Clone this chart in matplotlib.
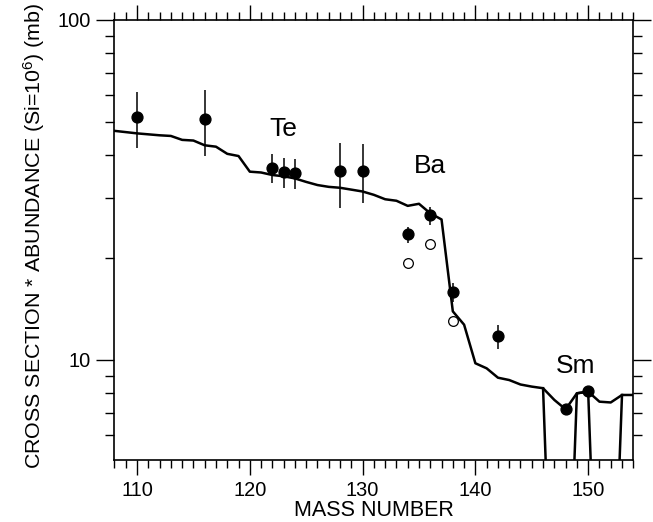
import matplotlib
matplotlib.use('Agg')
import matplotlib.pyplot as plt
from matplotlib.ticker import FixedLocator, NullFormatter, FixedFormatter

plt.rcParams['font.family'] = ['Liberation Sans', 'DejaVu Sans']
plt.rcParams['mathtext.default'] = 'regular'

# ---- data ----
mass_curve = list(range(108, 155))
curve_values = [47.2, 46.8, 46.4, 46.1, 45.8, 45.6, 44.4, 44.2, 42.8, 42.4,
                40.4, 39.8, 35.8, 35.6, 35.0, 34.7, 34.2, 33.4, 32.7, 32.3,
                32.1, 31.7, 31.3, 30.6, 29.7, 29.4, 28.4, 28.8, 27.0, 25.9,
                13.9, 12.7, 9.78, 9.45, 8.87, 8.73, 8.47, 8.35, 8.26, 7.63,
                7.16, 7.98, 8.07, 7.54, 7.50, 7.89, 7.89]

mass_drop = [146, 147, 148, 149, 150, 151, 152, 153]
drop_values = [8.26, 1.0, 1.0, 7.98, 8.07, 1.0, 1.0, 7.89]

mass_filled = [110, 116, 122, 123, 124, 128, 130, 134, 136, 138, 142, 148, 150]
val_filled = [51.8, 51.2, 36.7, 35.7, 35.5, 35.9, 35.9, 23.5, 26.7, 15.8, 11.8, 7.18, 8.1]
err_high = [61.4, 62.2, 40.4, 39.3, 39.0, 43.5, 43.2, 24.6, 28.2, 16.8, 12.7, 7.18, 8.1]
err_low = [42.1, 39.8, 33.1, 32.1, 31.8, 28.0, 29.0, 22.1, 24.9, 14.8, 10.8, 7.18, 8.1]

mass_open = [134, 136, 138]
val_open = [19.3, 21.9, 13.0]

element_labels = ['Te', 'Ba', 'Sm']
element_x = [123.0, 136.0, 148.9]
element_y = [47.8, 37.2, 9.6]

x_major = [110, 120, 130, 140, 150]
x_minor = list(range(108, 155))
y_major = [10, 100]
y_major_labels = ['10', '100']
y_minor = [6, 7, 8, 9, 20, 30, 40, 50, 60, 70, 80, 90]

# ---- figure ----
fig = plt.figure(figsize=(6.53, 5.22), dpi=100)
ax = fig.add_axes([0.1753, 0.1188, 0.7945, 0.8429])

ax.set_yscale('log')
ax.set_xlim(108, 154)
ax.set_ylim(5.08, 100)

ax.plot(mass_curve, curve_values, color='black', lw=1.8, solid_joinstyle='round')
ax.plot(mass_drop, drop_values, color='black', lw=1.8, solid_joinstyle='round')

ax.vlines(mass_filled, err_low, err_high, color='black', lw=1.1)
ax.plot(mass_filled, val_filled, 'o', color='black', ms=7.8, mec='black')
ax.plot(mass_open, val_open, 'o', mfc='white', mec='black', ms=7.0, mew=0.9)

for lab, xx, yy in zip(element_labels, element_x, element_y):
    ax.text(xx, yy, lab, fontsize=19, ha='center', va='center')

ax.xaxis.set_major_locator(FixedLocator(x_major))
ax.xaxis.set_minor_locator(FixedLocator(x_minor))
ax.yaxis.set_major_locator(FixedLocator(y_major))
ax.yaxis.set_major_formatter(FixedFormatter(y_major_labels))
ax.yaxis.set_minor_locator(FixedLocator(y_minor))
ax.yaxis.set_minor_formatter(NullFormatter())

ax.tick_params(which='both', direction='out', top=True, right=True, width=1.0,
               labelsize=14.4, pad=4)
ax.tick_params(axis='x', which='major', length=11)
ax.tick_params(axis='x', which='minor', length=5.5)
ax.tick_params(axis='y', which='major', length=13)
ax.tick_params(axis='y', which='minor', length=6.5)

for s in ax.spines.values():
    s.set_linewidth(1.2)

ax.set_xlabel('MASS NUMBER', fontsize=15.5, labelpad=0)
ax.set_ylabel('CROSS SECTION * ABUNDANCE (Si=10$^{6}$) (mb)', fontsize=15.4)
ax.yaxis.set_label_coords(-0.13, 0.51)

fig.savefig('out.png', dpi=100)
